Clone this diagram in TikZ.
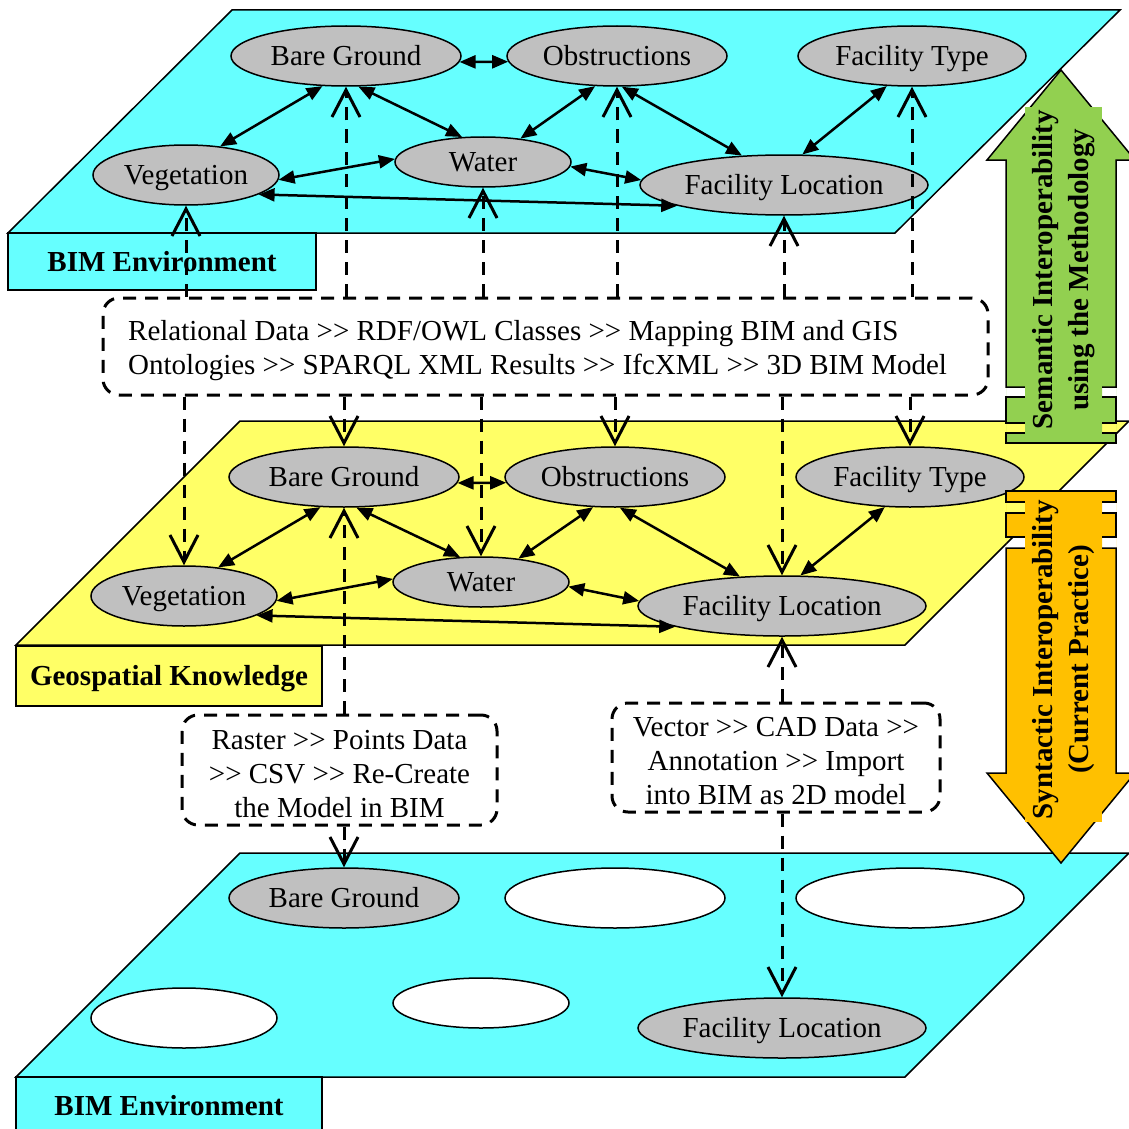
\documentclass[tikz,border=0pt]{standalone}
\usepackage{fontspec}
\setmainfont{Liberation Serif}
\usetikzlibrary{arrows.meta,shapes.geometric}
\definecolor{planecyan}{HTML}{66FFFF}
\definecolor{planeyellow}{HTML}{FFFF66}
\definecolor{nodegray}{HTML}{C0C0C0}
\definecolor{semgreen}{HTML}{92D050}
\definecolor{synorange}{HTML}{FFC000}
\begin{document}
\begin{tikzpicture}[x=1pt,y=-1pt,
  plane/.style={draw=black,line width=1.5pt,line join=miter},
  tag/.style={draw=black,line width=1.5pt,font=\fontsize{29}{34}\selectfont\bfseries,inner sep=0pt,text height=20pt,text depth=1pt},
  ent/.style={ellipse,draw=black,line width=1.5pt,fill=nodegray,inner sep=0pt,minimum height=60pt,text height=20pt,text depth=1pt,font=\fontsize{29}{34}\selectfont},
  blank/.style={ent,fill=white},
  link/.style={line width=2.5pt,{Triangle[length=16pt,width=13pt]}-{Triangle[length=16pt,width=13pt]}},
  flow/.style={line width=3pt,dash pattern=on 13pt off 9pt,-{Straight Barb[length=27pt,width=28pt]}},
  dbox/.style={draw=black,line width=3pt,dash pattern=on 13pt off 9pt,rounded corners=16pt,inner sep=0pt},
  chain/.style={font=\fontsize{29}{34}\selectfont,inner sep=0pt},
  bandtext/.style={rotate=90,inner sep=0pt,minimum width=325pt,minimum height=77pt,align=center,font=\fontsize{29}{36}\selectfont\bfseries},
  outline/.style={line width=1.5pt,line join=miter}
  ]
\useasboundingbox (0,0) rectangle (1128,1129);

% ---------- three planes ----------
\filldraw[plane,fill=planecyan]   (232,10)  -- (1120,10)  -- (895,233)  -- (8,233)   -- cycle;
\filldraw[plane,fill=planeyellow] (240,421) -- (1129,421) -- (905,645)  -- (16,645)  -- cycle;
\filldraw[plane,fill=planecyan]   (240,853) -- (1129,853) -- (905,1077) -- (16,1077) -- cycle;

\node[tag,fill=planecyan,minimum width=308pt,minimum height=57pt]   (tag1) at (162,261.5) {BIM Environment};
\node[tag,fill=planeyellow,minimum width=306pt,minimum height=60pt] (tag2) at (169,676)   {Geospatial Knowledge};
\node[tag,fill=planecyan,minimum width=306pt,minimum height=58pt]   (tag3) at (169,1106)  {BIM Environment};

% ---------- upper BIM environment ----------
\node[ent,minimum width=230pt] (bg1)  at (346,56)  {Bare Ground};
\node[ent,minimum width=220pt] (obs1) at (617,56)  {Obstructions};
\node[ent,minimum width=228pt] (ft1)  at (912,56)  {Facility Type};
\node[ent,minimum width=186pt] (veg1) at (186,175) {Vegetation};
\node[ent,minimum width=176pt,minimum height=50pt] (wat1) at (483,162) {Water};
\node[ent,minimum width=288pt] (fl1)  at (784,185) {Facility Location};

% ---------- geospatial knowledge ----------
\node[ent,minimum width=230pt] (bg2)  at (344,477) {Bare Ground};
\node[ent,minimum width=220pt] (obs2) at (615,477) {Obstructions};
\node[ent,minimum width=228pt] (ft2)  at (910,477) {Facility Type};
\node[ent,minimum width=186pt] (veg2) at (184,596) {Vegetation};
\node[ent,minimum width=176pt,minimum height=50pt] (wat2) at (481,582) {Water};
\node[ent,minimum width=288pt] (fl2)  at (782,606) {Facility Location};

% ---------- lower BIM environment ----------
\node[ent,minimum width=230pt]   (bg3)  at (344,898)  {Bare Ground};
\node[blank,minimum width=220pt] (obs3) at (615,898)  {};
\node[blank,minimum width=228pt] (ft3)  at (910,898)  {};
\node[blank,minimum width=186pt] (veg3) at (184,1018) {};
\node[blank,minimum width=176pt,minimum height=50pt] (wat3) at (481,1003) {};
\node[ent,minimum width=288pt]   (fl3)  at (782,1028) {Facility Location};

% ---------- relations inside the two complete layers ----------
\foreach \p in {1,2}{
  \draw[link] (bg\p.-3)   -- (obs\p.183);
  \draw[link] (bg\p.232)  -- (veg\p.40);
  \draw[link] (bg\p.-68)  -- (wat\p.130);
  \draw[link] (obs\p.234) -- (wat\p.32);
  \draw[link] (obs\p.-81) -- (fl\p.145);
  \draw[link] (ft\p.230)  -- (fl\p.59);
  \draw[link] (veg\p.-3)  -- (wat\p.178);
  \draw[link] (wat\p.-3)  -- (fl\p.178);
  \draw[link] (veg\p.-15) -- (fl\p.191);
}

% ---------- transformation chains ----------
\node[dbox,minimum width=885pt,minimum height=97pt] (sem)  at (545.5,346.5) {};
\node[dbox,minimum width=315pt,minimum height=110pt] (rast) at (339.5,770)  {};
\node[dbox,minimum width=328pt,minimum height=109pt] (vect) at (776,757.5)  {};
\node[chain,align=left,anchor=west] (semtext) at (128,351)
  {Relational Data >{}> RDF/OWL Classes >{}> Mapping BIM and GIS\\Ontologies >{}> SPARQL XML Results >{}> IfcXML >{}> 3D BIM Model};
\node[chain,align=center] (rasttext) at (339.5,774)
  {Raster >{}> Points Data\\>{}> CSV >{}> Re-Create\\the Model in BIM};
\node[chain,align=center] (vecttext) at (776,761.5)
  {Vector >{}> CAD Data >{}>\\Annotation >{}> Import\\into BIM as 2D model};

\foreach \n in {veg,bg,wat,obs,fl,ft}{
  \draw[flow] (sem.north -| \n1.south) -- (\n1.south);
  \draw[flow] (sem.south -| \n2.north) -- (\n2.north);
}
\draw[flow] (rast.north -| bg2.south) -- (bg2.south);
\draw[flow] (rast.south -| bg3.north) -- (bg3.north);
\draw[flow] (vect.north -| fl2.south) -- (fl2.south);
\draw[flow] (vect.south -| fl3.north) -- (fl3.north);

% ---------- semantic interoperability arrow (up) ----------
\fill[semgreen,even odd rule]
  (1006,443) -- (1006,160) -- (987,160) -- (1061,70) -- (1135,160) -- (1116,160) -- (1116,443) -- cycle
  (1006,387) rectangle (1025,397) (1102,387) rectangle (1116,397)
  (1006,423) rectangle (1025,433) (1102,423) rectangle (1116,433);
\draw[outline] (1025,387) -- (1006,387) -- (1006,160) -- (987,160) -- (1061,70) -- (1135,160) -- (1116,160) -- (1116,387) -- (1102,387);
\draw[outline] (1025,397) -- (1006,397) -- (1006,423) -- (1025,423);
\draw[outline] (1102,397) -- (1116,397) -- (1116,423) -- (1102,423);
\draw[outline] (1025,433) -- (1006,433) -- (1006,443) -- (1116,443) -- (1116,433) -- (1102,433);
\node[bandtext,fill=semgreen] (semlabel) at (1063.5,269.5) {Semantic Interoperability\\using the Methodology};

% ---------- syntactic interoperability arrow (down) ----------
\fill[synorange,even odd rule]
  (1006,491) -- (1116,491) -- (1116,773) -- (1135,773) -- (1061,863) -- (987,773) -- (1006,773) -- cycle
  (1006,502) rectangle (1025,513) (1102,502) rectangle (1116,513)
  (1006,537) rectangle (1025,548) (1102,537) rectangle (1116,548);
\draw[outline] (1025,502) -- (1006,502) -- (1006,491) -- (1116,491) -- (1116,502) -- (1102,502);
\draw[outline] (1025,513) -- (1006,513) -- (1006,537) -- (1025,537);
\draw[outline] (1102,513) -- (1116,513) -- (1116,537) -- (1102,537);
\draw[outline] (1025,548) -- (1006,548) -- (1006,773) -- (987,773) -- (1061,863) -- (1135,773) -- (1116,773) -- (1116,548) -- (1102,548);
\node[bandtext,fill=synorange] (synlabel) at (1063.5,659.5) {Syntactic Interoperability\\(Current Practice)};
\end{tikzpicture}
\end{document}
